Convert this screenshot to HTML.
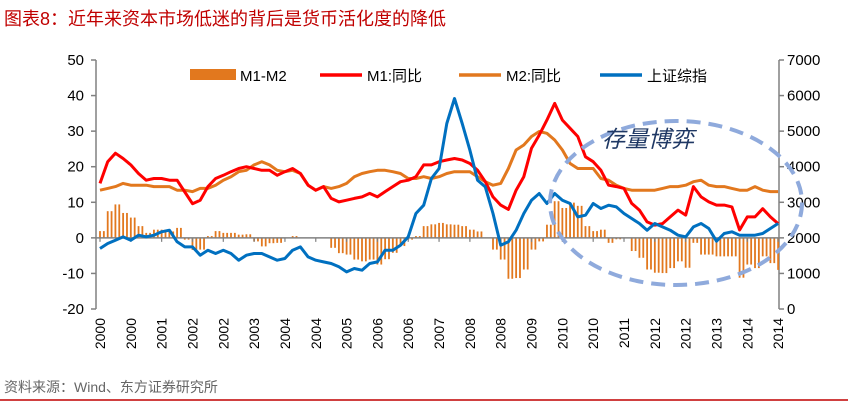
<!DOCTYPE html>
<html><head><meta charset="utf-8">
<style>
body{margin:0;background:#fff;width:848px;height:405px;overflow:hidden;font-family:"Liberation Sans","Noto Sans CJK SC",sans-serif;}
svg text{font-family:"Liberation Sans","Noto Sans CJK SC",sans-serif;}
</style></head><body>
<svg id="c" width="848" height="405" xmlns="http://www.w3.org/2000/svg">
<text x="4" y="25" font-size="18" fill="#c00000">图表8：近年来资本市场低迷的背后是货币活化度的降低</text>
<text x="4" y="392" font-size="14" fill="#666">资料来源：Wind、东方证券研究所</text>
<line x1="0" y1="400" x2="848" y2="400" stroke="#c00000" stroke-width="1.5"/>
</svg>
<script>
// monthly index step 2, from Jan 2000 (m=0) to m=176
const months = [];
for (let m = 0; m <= 176; m += 2) months.push(m);
const m1Yoy = [15.3,21.4,23.8,22.3,20.5,18.1,16.2,16.7,16.7,16.2,16.2,12.9,9.6,10.6,14.4,16.7,17.6,18.6,19.5,20.0,19.5,19.0,19.0,17.6,18.6,19.5,18.1,14.8,13.4,14.4,11.1,10.1,10.6,11.1,11.5,12.5,11.5,13.0,14.4,15.8,16.2,17.2,20.5,20.5,21.4,
21.9,22.3,21.9,20.9,19.0,15.8,11.5,9.2,8.0,13.4,17.2,25.2,28.9,33.1,37.8,33.1,30.8,28.5,22.8,21.4,19.0,14.8,14.4,13.9,9.7,7.8,4.5,3.6,4.0,5.9,7.8,6.4,14.4,11.5,10.1,9.2,9.2,8.7,2.2,5.9,5.9,8.2,5.9,4.0];
const m2Yoy = [13.4,13.9,14.4,15.3,14.8,14.8,14.8,14.4,14.4,14.4,13.4,13.4,13.0,13.9,13.9,14.8,16.2,17.2,18.6,19.0,20.5,21.4,20.5,19.0,18.6,19.0,18.1,14.8,13.4,14.4,13.9,14.4,15.3,17.2,18.1,18.6,19.0,19.0,18.6,18.1,16.7,16.7,17.2,16.7,17.2,
18.1,18.6,18.6,18.6,17.2,15.8,14.8,15.3,19.5,24.7,26.1,28.5,29.9,29.4,27.5,24.7,20.9,19.5,19.5,19.5,16.7,16.2,14.8,13.9,13.4,13.4,13.4,13.4,13.9,14.4,14.4,14.8,15.8,16.2,14.8,14.4,14.4,13.9,13.4,13.4,14.4,13.4,13.0,13.0];
const m1m2 = [1.9,7.5,9.4,7.0,5.7,3.3,1.4,2.3,2.3,1.8,2.8,-0.5,-3.4,-3.3,0.5,1.9,1.4,1.4,0.9,1.0,-1.0,-2.4,-1.5,-1.4,0.0,0.5,0.0,0.0,0.0,0.0,-2.8,-4.3,-4.7,-6.1,-6.6,-6.1,-7.5,-6.0,-4.2,-2.3,-0.5,0.5,3.3,3.8,4.2,
3.8,3.7,3.3,2.3,1.8,0.0,-3.3,-6.1,-11.5,-11.3,-8.9,-3.3,-1.0,3.7,10.3,8.4,9.9,9.0,3.3,1.9,2.3,-1.4,-0.4,0.0,-3.7,-5.6,-8.9,-9.8,-9.9,-8.5,-6.6,-8.4,-1.4,-4.7,-4.7,-5.2,-5.2,-5.2,-11.2,-7.5,-8.5,-5.2,-7.1,-9.0];
const shIndex = [1700,1841,1934,2028,1934,2075,2028,2075,2169,2216,1888,1747,1747,1513,1653,1560,1653,1560,1372,1513,1560,1560,1466,1372,1419,1653,1747,1466,1372,1325,1278,1185,1044,1138,1091,1278,1325,1653,1653,1794,2028,2684,2918,3668,3949,
5214,5917,5214,4464,3621,3433,2684,1794,1888,2216,2684,3059,3246,2965,3246,3059,2965,2590,2637,2965,2825,2918,2871,2684,2543,2403,2216,2403,2309,2216,2075,2028,2309,2403,2262,1906,2122,2169,2075,2075,2075,2122,2262,2403];
const leftTicks = [50,40,30,20,10,0,-10,-20];
const rightTicks = [7000,6000,5000,4000,3000,2000,1000,0];
const xLabels = ["2000","2000","2001","2002","2002","2003","2004","2004","2005","2006","2006","2007","2008","2008","2009","2010","2010","2011","2012","2012","2013","2014","2014"];

const NS = "http://www.w3.org/2000/svg";
const svg = document.getElementById('c');
const X0 = 100, XS = 3.853, AXL = 96, AXR = 779, YT = 60, YB = 309;
const x = m => X0 + m * XS;
const yL = v => YB - (v + 20) / 70 * (YB - YT);
const yR = v => YB - v / 7000 * (YB - YT);
function el(tag, attrs, parent) {
  const e = document.createElementNS(NS, tag);
  for (const k in attrs) e.setAttribute(k, attrs[k]);
  (parent || svg).appendChild(e);
  return e;
}
const la = el('line', {x1: AXL, y1: YT, x2: AXL, y2: YB, stroke: '#808080', 'stroke-width': 1.5});


const ra = el('line', {x1: AXR, y1: YT, x2: AXR, y2: YB, stroke: '#808080', 'stroke-width': 1.5});


leftTicks.forEach(v => {
  el('line', {x1: AXL - 5, x2: AXL, y1: yL(v), y2: yL(v), stroke: '#808080', 'stroke-width': 1.5});
  const t = el('text', {x: AXL - 12, y: yL(v) + 5, 'text-anchor': 'end', 'font-size': 15, fill: '#000'});
  t.textContent = v;
  
  
});
rightTicks.forEach(v => {
  el('line', {x1: AXR, x2: AXR + 5, y1: yR(v), y2: yR(v), stroke: '#808080', 'stroke-width': 1.5});
  const t = el('text', {x: AXR + 8, y: yR(v) + 5, 'font-size': 15, fill: '#000'});
  t.textContent = v;
  
  
});
// bars: each 2-month value drawn as two monthly bars
months.forEach((m, i) => {
  const v = m1m2[i];
  [0, 1].forEach(k => {
    if (m + k > 176) return;
    const b = el('rect', {x: x(m + k) - 0.9, y: Math.min(yL(v), yL(0)), width: 1.8, height: Math.abs(yL(v) - yL(0)), fill: '#e2781e'});
    
    
  });
});
const z = el('line', {x1: AXL, x2: AXR, y1: yL(0), y2: yL(0), stroke: '#808080', 'stroke-width': 1.5});


xLabels.forEach((lab, i) => {
  const xx = x(i * 8);
  el('line', {x1: xx, x2: xx, y1: yL(0), y2: yL(0) + 4, stroke: '#808080', 'stroke-width': 1.2});
  const t = el('text', {x: 0, y: 0, 'font-size': 14, fill: '#000', 'text-anchor': 'end', transform: `translate(${xx + 5},318) rotate(-90)`});
  t.textContent = lab;
  
  
});
function line(vals, fy, color, name) {
  const d = vals.map((v, i) => (i ? 'L' : 'M') + x(months[i]).toFixed(1) + ',' + fy(v).toFixed(1)).join('');
  const p = el('path', {d, fill: 'none', stroke: color, 'stroke-width': 3, 'stroke-linejoin': 'round'});
  
  
}
line(m2Yoy, yL, '#e2781e', 'm2-yoy-line');
line(m1Yoy, yL, '#ff0000', 'm1-yoy-line');
line(shIndex, yR, '#0070c0', 'sh-index-line');
const ell = el('ellipse', {cx: 676, cy: 203, rx: 126, ry: 82, fill: 'none', stroke: '#8faadc', 'stroke-width': 4, 'stroke-dasharray': '14 8'});


const at = el('text', {x: 602, y: 147, 'font-size': 23, 'font-style': 'italic', fill: '#1f3864'});
at.textContent = '存量博弈';


const lg = el('g', {});


const legend = [
  {t: 'M1-M2', c: '#e2781e', rect: true, x: 190},
  {t: 'M1:同比', c: '#ff0000', x: 320},
  {t: 'M2:同比', c: '#e2781e', x: 459},
  {t: '上证综指', c: '#0070c0', x: 600}
];
legend.forEach(L => {
  const g = el('g', {}, lg);
  
  
  if (L.rect) el('rect', {x: L.x, y: 69, width: 46, height: 11, fill: L.c}, g);
  else el('line', {x1: L.x, x2: L.x + 42, y1: 75, y2: 75, stroke: L.c, 'stroke-width': 3.5}, g);
  const t = el('text', {x: L.x + (L.rect ? 50 : 47), y: 81, 'font-size': 15, fill: '#000'}, g);
  t.textContent = L.t;
});
</script>
</body></html>
